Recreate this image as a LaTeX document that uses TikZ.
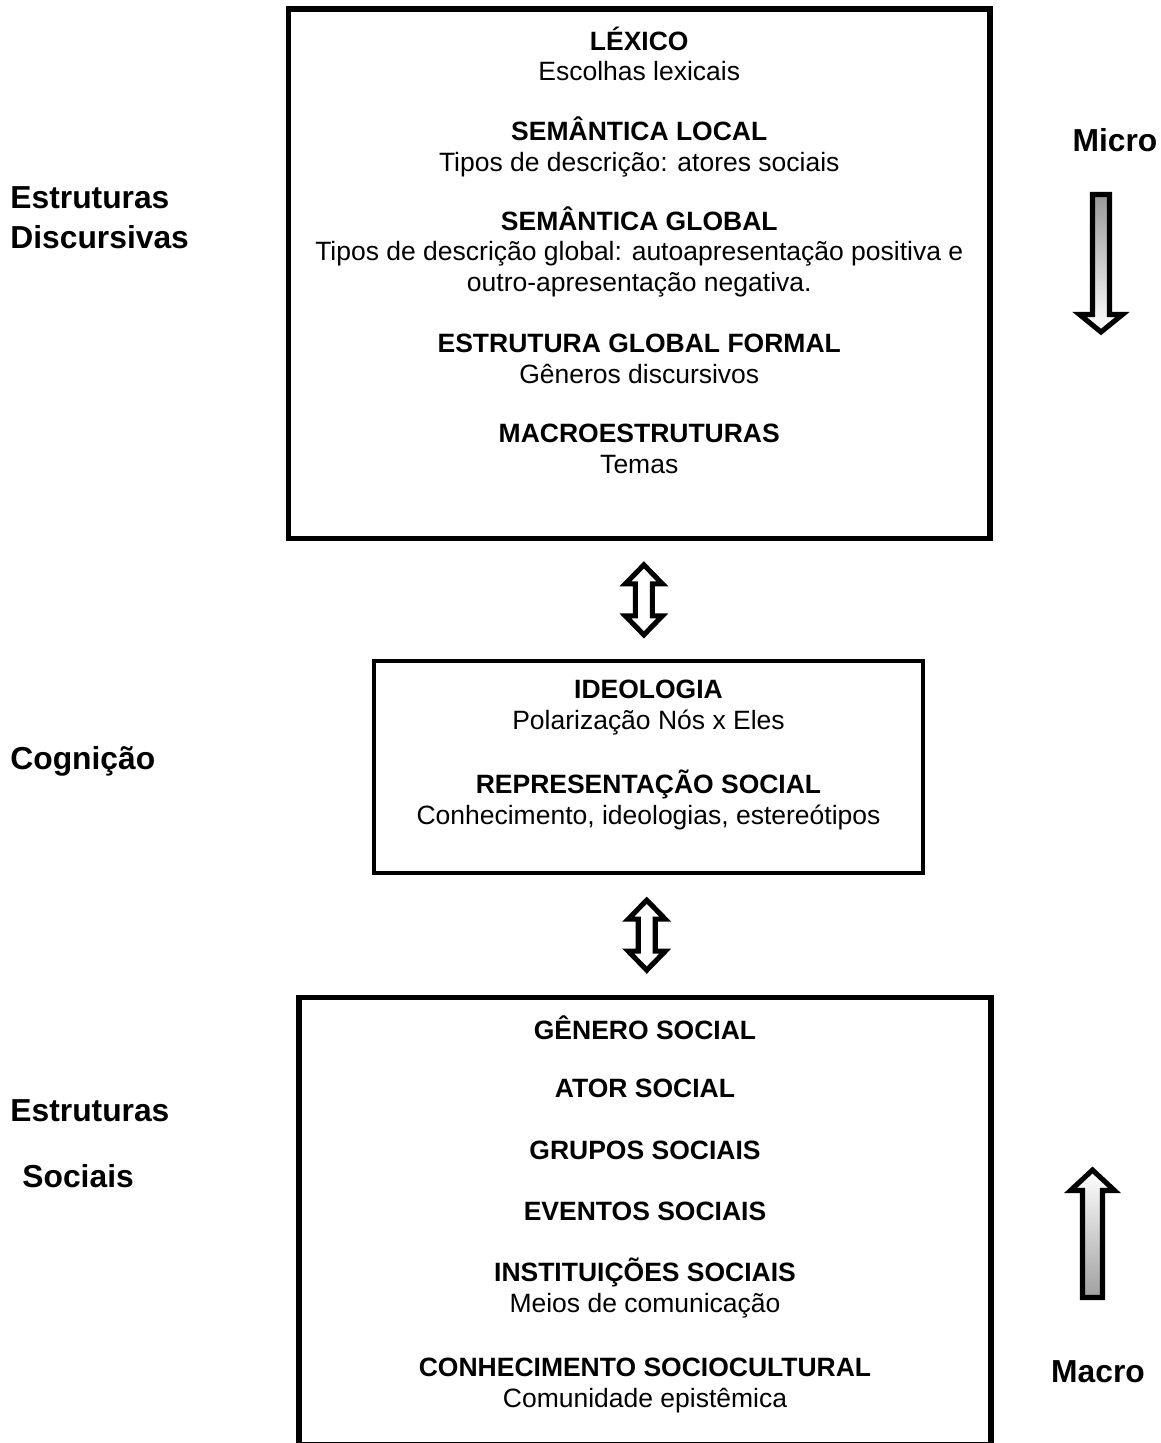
\documentclass[tikz,border=0pt]{standalone}
\usepackage{fontspec}
\setmainfont{Liberation Sans}
\usetikzlibrary{fit,calc}

\begin{document}
\begin{tikzpicture}[
  x=0.453pt, y=-0.453pt,
  box/.style={draw, line width=2.3pt, inner sep=0pt},
  grp/.style={font=\fontsize{12}{13.6}\selectfont, align=center, anchor=base, inner sep=0pt},
  side/.style={font=\fontsize{14.4}{16}\selectfont\bfseries, anchor=base west, inner sep=0pt},
  flow/.style={draw, line width=2.3pt, line join=miter},
]

\clip (0,0) rectangle (1161,1443);

% ===== Boxes =====================================================================
\node[box, fit={(288.5,9) (990,538.5)}] (lexbox) {};
\node[box, line width=2.1pt, fit={(374,661) (923,873)}] (ideobox) {};
\node[box, fit={(299,997.5) (991,1444.5)}] (socbox) {};

% ===== Discursive structures (base = last line) ===================================
\node[grp] (lexico) at (lexbox.north |- 0,81) {\textbf{LÉXICO}\\Escolhas lexicais};
\node[grp] (semloc) at (lexbox.north |- 0,171) {\textbf{SEMÂNTICA LOCAL}\\Tipos de descrição: atores sociais};
\node[grp] (semglob) at (lexbox.north |- 0,291) {\textbf{SEMÂNTICA GLOBAL}\\Tipos de descrição global: autoapresentação positiva e\\outro-apresentação negativa.};
\node[grp] (estglob) at (lexbox.north |- 0,383) {\textbf{ESTRUTURA GLOBAL FORMAL}\\Gêneros discursivos};
\node[grp] (macroest) at (lexbox.north |- 0,473) {\textbf{MACROESTRUTURAS}\\Temas};

% ===== Cognition ==================================================================
\node[grp] (ideologia) at (ideobox.north |- 0,729) {\textbf{IDEOLOGIA}\\Polarização Nós x Eles};
\node[grp] (represent) at (ideobox.north |- 0,824) {\textbf{REPRESENTAÇÃO SOCIAL}\\Conhecimento, ideologias, estereótipos};

% ===== Social structures ==========================================================
\node[grp] (genero) at (socbox.north |- 0,1039) {\textbf{GÊNERO SOCIAL}};
\node[grp] (ator) at (socbox.north |- 0,1097) {\textbf{ATOR SOCIAL}};
\node[grp] (grupos) at (socbox.north |- 0,1159) {\textbf{GRUPOS SOCIAIS}};
\node[grp] (eventos) at (socbox.north |- 0,1220) {\textbf{EVENTOS SOCIAIS}};
\node[grp] (instit) at (socbox.north |- 0,1312) {\textbf{INSTITUIÇÕES SOCIAIS}\\Meios de comunicação};
\node[grp] (conhec) at (socbox.north |- 0,1407) {\textbf{CONHECIMENTO SOCIOCULTURAL}\\Comunidade epistêmica};

% ===== Side labels ================================================================
\node[side] (estdisc1) at (10,208) {Estruturas};
\node[side] (estdisc2) at (10,248) {Discursivas};
\node[side] (cognicao) at (10,769) {Cognição};
\node[side] (estsoc1) at (10,1121) {Estruturas};
\node[side] (estsoc2) at (22,1187) {Sociais};
\node[side, anchor=base] (micro) at (1115,152) {Micro};
\node[side, anchor=base] (macro) at (1098,1382) {Macro};

% ===== Links between the levels ===================================================
\coordinate (link1) at ($(lexbox.south)!0.5!(ideobox.north)$);
\coordinate (link2) at ($(ideobox.south)!0.5!(socbox.north)$);
\foreach \c in {link1,link2}
  \draw[flow, fill=white, shift={(\c)}]
    (0,-35) -- (18.5,-16) -- (8.5,-16) -- (8.5,16) -- (18.5,16) -- (0,35)
    -- (-18.5,16) -- (-8.5,16) -- (-8.5,-16) -- (-18.5,-16) -- cycle;

% ===== Micro / Macro arrows =======================================================
\draw[flow, top color=gray!80, bottom color=white]
  (1092.5,194.5) -- (1109.5,194.5) -- (1109.5,314.5) -- (1122.5,314.5)
  -- (1101,332) -- (1079.5,314.5) -- (1092.5,314.5) -- cycle;
\draw[flow, top color=white, bottom color=gray!75]
  (1082.5,1297.5) -- (1102.5,1297.5) -- (1102.5,1190.5) -- (1114.5,1190.5)
  -- (1092.5,1170) -- (1070.5,1190.5) -- (1082.5,1190.5) -- cycle;

\end{tikzpicture}
\end{document}
